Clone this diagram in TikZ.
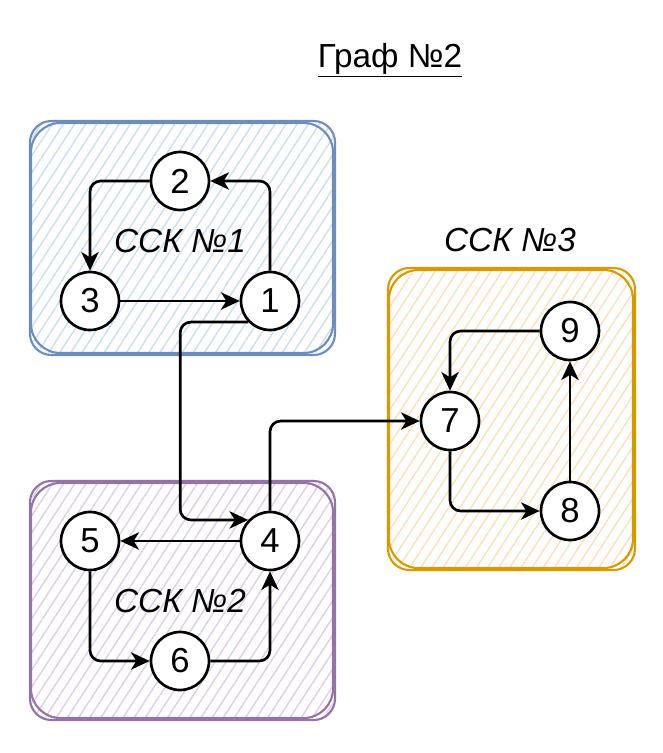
\documentclass[tikz,border=0pt]{standalone}
\usepackage{fontspec}
\setmainfont{Liberation Sans}
\usetikzlibrary{arrows.meta,patterns.meta}
\definecolor{blueline}{HTML}{6C8EBF}
\definecolor{bluefill}{HTML}{C9DCF6}
\definecolor{violetline}{HTML}{9673A6}
\definecolor{violetfill}{HTML}{DCCDE4}
\definecolor{orangeline}{HTML}{D79B00}
\definecolor{orangefill}{HTML}{FFDDB8}
\begin{document}
\begin{tikzpicture}[x=0.75pt,y=-0.75pt,
	vertex/.style={circle, draw, line width=2pt, fill=white, minimum size=43.5pt, inner sep=0pt, font=\fontsize{26}{30}\selectfont},
	edge/.style={line width=2pt, rounded corners=8pt, -{Stealth[length=14pt,width=13pt,inset=4pt]}},
	hatch/.style={pattern={Lines[angle=57,distance=7pt,line width=1pt]}, pattern color=#1, rounded corners=14pt},
	sketch/.style={draw=#1, line width=1.6pt, rounded corners=16pt},
	label/.style={font=\fontsize{25}{30}\selectfont\itshape}]
	\useasboundingbox (0,0) rectangle (663,753);
	% clusters
	\fill[hatch=bluefill] (32,122) rectangle (333,353);
	\draw[sketch=blueline] (30,121) rectangle (335,355);
	\draw[sketch=blueline, rounded corners=22pt] (31,123) rectangle (333,353);
	\fill[hatch=violetfill] (32,482) rectangle (333,718);
	\draw[sketch=violetline] (30,481) rectangle (335,720);
	\draw[sketch=violetline, rounded corners=22pt] (31,483) rectangle (333,718);
	\fill[hatch=orangefill] (390,270) rectangle (633,568);
	\draw[sketch=orangeline] (388,268) rectangle (635,570);
	\draw[sketch=orangeline, rounded corners=22pt] (389,270) rectangle (633,568);
	% texts
	\node (title) at (390,60) [font=\fontsize{25}{30}\selectfont] {\underline{Граф №2}};
	\node (ssk1) at (180,241) [label] {ССК №1};
	\node (ssk2) at (180,601) [label] {ССК №2};
	\node (ssk3) at (510,240) [label] {ССК №3};
	% vertices
	\node (n1) at (270,301) [vertex] {1};
	\node (n2) at (180,181) [vertex] {2};
	\node (n3) at ( 90,301) [vertex] {3};
	\node (n4) at (270,541) [vertex] {4};
	\node (n5) at ( 90,541) [vertex] {5};
	\node (n6) at (180,661) [vertex] {6};
	\node (n7) at (450,421) [vertex] {7};
	\node (n8) at (570,511) [vertex] {8};
	\node (n9) at (570,331) [vertex] {9};
	% arcs
	\draw[edge] (n1.north) |- (n2.east);
	\draw[edge] (n2.west) -| (n3.north);
	\draw[edge] (n3) -- (n1);
	\draw[edge] (n1.-136) -- ++(-68,0) |- (n4.136);
	\draw[edge] (n4) -- (n5);
	\draw[edge] (n5.south) |- (n6.west);
	\draw[edge] (n6.east) -| (n4.south);
	\draw[edge] (n4.north) |- (n7.west);
	\draw[edge] (n7.south) |- (n8.west);
	\draw[edge] (n8) -- (n9);
	\draw[edge] (n9.west) -| (n7.north);
\end{tikzpicture}
\end{document}
